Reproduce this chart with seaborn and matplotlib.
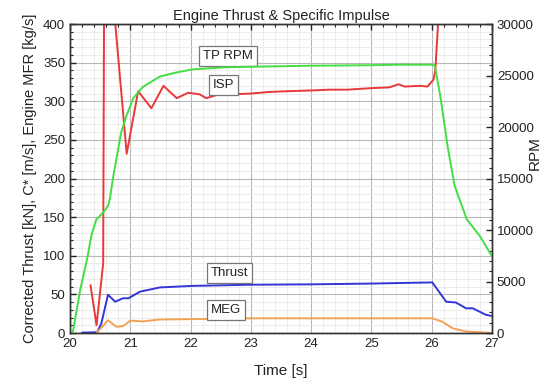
import matplotlib
matplotlib.use("Agg")
import matplotlib.pyplot as plt
import seaborn as sns
import numpy as np
from matplotlib.ticker import MultipleLocator

# ---- data ----
t_rpm = [20.0, 20.05, 20.17, 20.28, 20.36, 20.44, 20.55, 20.63, 20.66, 20.72, 20.8,
         20.85, 20.94, 21.05, 21.21, 21.49, 21.77, 22.04, 22.59, 23.0, 24.0, 25.0,
         25.46, 26.0, 26.05, 26.14, 26.27, 26.38, 26.58, 26.8, 27.0]
rpm = [0, 200, 4200, 7100, 9600, 11050, 11700, 12350, 13000, 15300, 17900,
       19500, 21150, 22800, 23900, 24900, 25300, 25600, 25800, 25850, 25950, 26000,
       26050, 26050, 26000, 23100, 17900, 14300, 11050, 9400, 7450]

t_isp = [20.34, 20.44, 20.55, 20.6, 20.74, 20.94, 21.13, 21.35, 21.55, 21.77, 21.96,
         22.15, 22.26, 22.43, 22.7, 23.0, 23.3, 23.6, 24.0, 24.3, 24.6, 25.0, 25.3,
         25.45, 25.55, 25.8, 25.93, 26.03, 26.06, 26.12, 26.2]
isp = [62, 10, 90, 1200, 410, 232, 313, 291, 320, 304, 311,
       309, 304, 308, 309, 310, 312, 313, 314, 315, 315, 317, 318,
       322, 319, 320, 319, 328, 340, 420, 600]

t_thr = [20.2, 20.45, 20.52, 20.63, 20.75, 20.88, 20.97, 21.16, 21.49, 22.04, 23.0,
         24.0, 25.0, 26.01, 26.24, 26.4, 26.57, 26.68, 26.9, 27.0]
thrust = [0.5, 1, 12.5, 49.5, 40.5, 45, 45, 53.5, 59, 61, 62.5,
          63, 64, 65.5, 40.5, 39.5, 32, 32, 23.5, 22]

t_meg = [20.44, 20.63, 20.77, 20.88, 21.0, 21.21, 21.49, 22.04, 23.0, 26.01, 26.18,
         26.35, 26.57, 27.0]
meg = [0, 16.5, 8, 9, 16, 15, 17.5, 18, 19, 19, 14.5, 6, 2, 0]

labels = ["TP RPM", "ISP", "Thrust", "MEG"]
label_pos = [(22.62, 358), (22.55, 321), (22.65, 78), (22.59, 30)]

x_ticks = [20, 21, 22, 23, 24, 25, 26, 27]
y_ticks = [0, 50, 100, 150, 200, 250, 300, 350, 400]
rpm_ticks = [0, 5000, 10000, 15000, 20000, 25000, 30000]

# ---- style ----
sns.set_style("white")
plt.rcParams['font.family'] = ['Liberation Sans', 'DejaVu Sans']

fig = plt.figure(figsize=(5.44, 3.86), dpi=100)
ax = fig.add_axes([0.1287, 0.1373, 0.7757, 0.8005])
ax2 = ax.twinx()

ax.set_xlim(20, 27)
ax.set_ylim(0, 400)
ax2.set_ylim(0, 30000)
ax.set_xticks(x_ticks)
ax.set_yticks(y_ticks)
ax2.set_yticks(rpm_ticks)
ax.xaxis.set_minor_locator(MultipleLocator(0.2))
ax.yaxis.set_minor_locator(MultipleLocator(10))
ax2.yaxis.set_minor_locator(MultipleLocator(1000))

ax.grid(True, which='major', color='#b8b8b8', lw=0.8)
ax.grid(True, which='minor', color='#e6e6e6', lw=0.5)
ax.set_axisbelow(True)

ax.tick_params(which='both', direction='in', top=True, right=False, labelsize=9.5, colors='#222222')
ax.tick_params(which='major', length=4, width=1)
ax.tick_params(which='minor', length=2, width=0.8)
ax2.tick_params(which='both', direction='in', labelsize=9.5, colors='#222222')
ax2.tick_params(which='major', length=4, width=1)
ax2.tick_params(which='minor', length=2, width=0.8)
for a in (ax, ax2):
    for s in a.spines.values():
        s.set_color('#333333')
        s.set_linewidth(1)

sns.lineplot(x=t_isp, y=isp, ax=ax, color='#e8383a', lw=1.4, estimator=None)
sns.lineplot(x=t_thr, y=thrust, ax=ax, color='#3434d8', lw=1.4, estimator=None)
sns.lineplot(x=t_meg, y=meg, ax=ax, color='#f2a255', lw=1.4, estimator=None)
sns.lineplot(x=t_rpm, y=rpm, ax=ax2, color='#44dd44', lw=1.4, estimator=None)
ax.set_ylim(0, 400)
ax2.set_ylim(0, 30000)
ax.set_xlim(20, 27)

for lab, (lx, ly) in zip(labels, label_pos):
    ax.text(lx, ly, lab, ha='center', va='center', fontsize=9.5, color='#222222', zorder=5,
            bbox=dict(boxstyle='square,pad=0.3', fc='white', ec='#777777', lw=0.9))

ax.set_title("Engine Thrust & Specific Impulse", fontsize=10.5, pad=3, color='#222222')
ax.set_xlabel("Time [s]", fontsize=11, labelpad=10, color='#222222')
ax.set_ylabel("Corrected Thrust [kN], C* [m/s], Engine MFR [kg/s]", fontsize=10.5,
              labelpad=4, color='#222222')
ax2.set_ylabel("RPM", fontsize=11, color='#222222')
ax2.yaxis.set_label_coords(1.085, 0.583)

fig.savefig("out.png", dpi=100)
